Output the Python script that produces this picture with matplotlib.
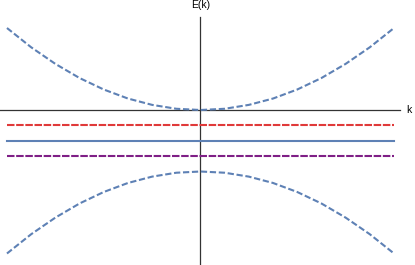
import numpy as np
import matplotlib.pyplot as plt

# band values
k = np.array([-2.0, -1.75, -1.5, -1.25, -1.0, -0.75, -0.5, -0.25, 0.0,
              0.25, 0.5, 0.75, 1.0, 1.25, 1.5, 1.75, 2.0])
e_upper = np.array([4.0, 3.06, 2.25, 1.56, 1.0, 0.56, 0.25, 0.06, 0.0,
                    0.06, 0.25, 0.56, 1.0, 1.56, 2.25, 3.06, 4.0])
e_lower = np.array([-7.0, -6.06, -5.25, -4.56, -4.0, -3.56, -3.25, -3.06, -3.0,
                    -3.06, -3.25, -3.56, -4.0, -4.56, -5.25, -6.06, -7.0])
level_k = [-2.0, 2.0]
e_red = -0.75
e_blue = -1.5
e_purple = -2.25

blue = '#5E81B5'
red = '#E03A3A'
purple = '#7F1F86'

fig = plt.figure(figsize=(4.15, 2.65), dpi=100)
ax = fig.add_axes([0, 0, 1, 1])
ax.set_xlim(-2.072, 2.217)
ax.set_ylim(-7.561, 5.366)
ax.axis('off')

# axes
ax.plot([-2.072, 2.062], [0, 0], color='#333333', lw=0.9, zorder=1)
ax.plot([0, 0], [4.537, -7.561], color='#333333', lw=0.9, zorder=1)
ax.text(0, 5.12, 'E(k)', ha='center', va='center', fontsize=7.5, family='Liberation Sans')
ax.text(2.15, 0.02, 'k', ha='center', va='center', fontsize=7.5, family='Liberation Sans')

ax.plot(k, e_upper, color=blue, lw=1.5, dashes=(3, 1.3))
ax.plot(k, e_lower, color=blue, lw=1.5, dashes=(3, 1.3))
ax.plot(level_k, [e_red, e_red], color=red, lw=1.5, dashes=(3.6, 0.8))
ax.plot(level_k, [e_blue, e_blue], color=blue, lw=1.5)
ax.plot(level_k, [e_purple, e_purple], color=purple, lw=1.5, dashes=(3.6, 0.8))

fig.savefig('out.png', dpi=100)
